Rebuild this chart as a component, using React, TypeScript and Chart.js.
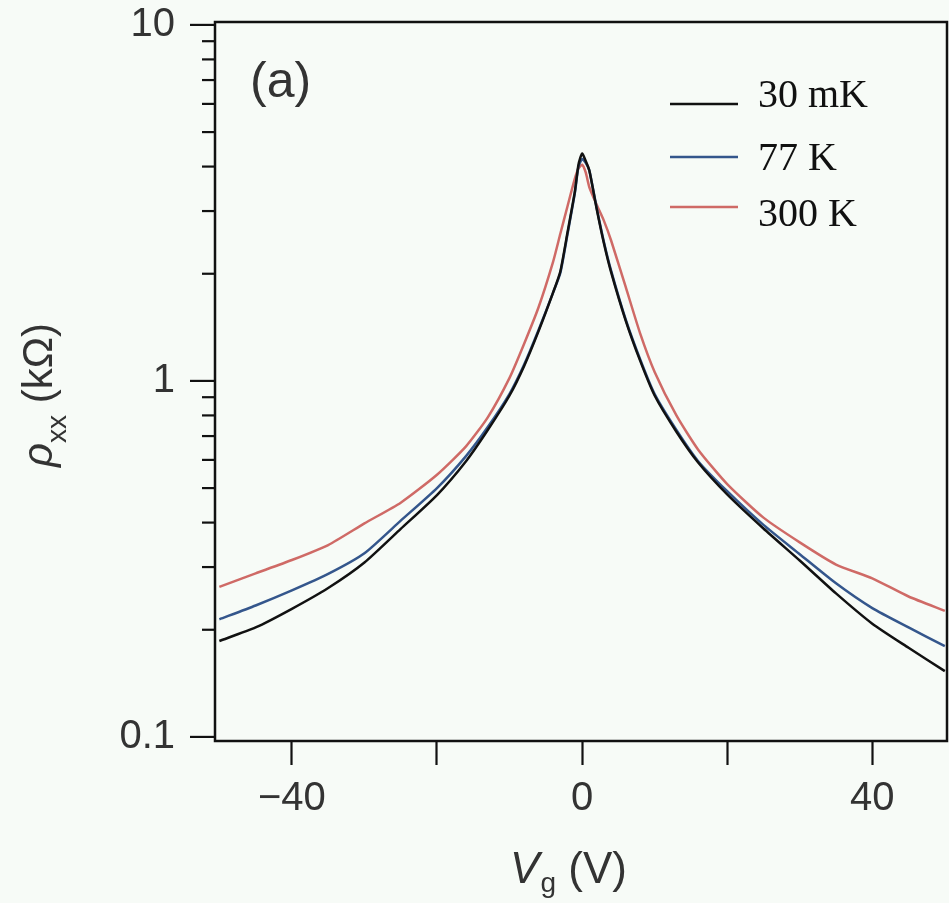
import React, { useEffect, useRef } from 'react';
import { Chart, registerables } from 'chart.js';

Chart.register(...registerables);

// Gate voltage grid (V)
const vg = [-50, -45, -40, -35, -30, -25, -20, -16, -13, -10, -8, -6, -4, -3, -2, -1, -0.5, 0, 0.5, 1, 2, 3, 4, 6, 8, 10, 13, 16, 20, 25, 30, 35, 40, 45, 50];

// rho_xx (kOhm) per temperature
const rho30mK = [0.186, 0.203, 0.229, 0.262, 0.309, 0.384, 0.478, 0.595, 0.728, 0.91, 1.10, 1.38, 1.77, 2.03, 2.62, 3.4, 4.05, 4.35, 4.15, 3.9, 3.05, 2.44, 2.02, 1.48, 1.14, 0.91, 0.72, 0.59, 0.48, 0.385, 0.313, 0.253, 0.208, 0.178, 0.153];
const rho77K = [0.214, 0.234, 0.258, 0.287, 0.328, 0.405, 0.50, 0.615, 0.742, 0.92, 1.11, 1.39, 1.77, 2.01, 2.59, 3.37, 4.0, 4.2, 4.1, 3.9, 3.07, 2.46, 2.04, 1.49, 1.15, 0.918, 0.728, 0.595, 0.490, 0.394, 0.326, 0.270, 0.230, 0.203, 0.180];
const rho300K = [0.264, 0.288, 0.314, 0.346, 0.398, 0.455, 0.545, 0.655, 0.79, 1.02, 1.27, 1.61, 2.16, 2.59, 3.10, 3.70, 3.95, 4.05, 3.85, 3.5, 3.13, 2.82, 2.48, 1.84, 1.36, 1.06, 0.80, 0.641, 0.513, 0.413, 0.352, 0.305, 0.279, 0.248, 0.226];

const seriesLabels = ['30 mK', '77 K', '300 K'];
const seriesColors = ['#111111', '#34568c', '#cf6a66'];

const xTickValues = [-40, -20, 0, 20, 40];
const xTickLabels = ['\u221240', '', '0', '', '40'];
const yMajorTicks = [0.1, 1, 10];
const yMajorLabels = ['0.1', '1', '10'];
const yMinorTicks = [0.2, 0.3, 0.4, 0.5, 0.6, 0.7, 0.8, 0.9, 2, 3, 4, 5, 6, 7, 8, 9];

const panelLabel = '(a)';

const SANS = '"Liberation Sans", Arial, sans-serif';
const SERIF = '"Liberation Serif", "Times New Roman", serif';

const decorPlugin = {
  id: 'decor',
  afterDraw(chart: any) {
    const ctx = chart.ctx as CanvasRenderingContext2D;
    const area = chart.chartArea;
    const ys = chart.scales.y;
    ctx.save();
    // frame
    ctx.strokeStyle = '#111';
    ctx.lineWidth = 2.5;
    ctx.strokeRect(area.left, area.top, area.right - area.left, area.bottom - area.top);
    // y ticks
    ctx.lineWidth = 2.2;
    yMajorTicks.forEach((v) => {
      const y = ys.getPixelForValue(v);
      ctx.beginPath();
      ctx.moveTo(area.left - 25, y);
      ctx.lineTo(area.left, y);
      ctx.stroke();
    });
    yMinorTicks.forEach((v) => {
      const y = ys.getPixelForValue(v);
      ctx.beginPath();
      ctx.moveTo(area.left - 13, y);
      ctx.lineTo(area.left, y);
      ctx.stroke();
    });

    // panel label
    ctx.fillStyle = '#333';
    ctx.font = `50px ${SANS}`;
    ctx.textAlign = 'left';
    ctx.textBaseline = 'alphabetic';
    ctx.fillText(panelLabel, 250, 97);

    // legend
    const legendY = [104, 157, 207];
    const legendTextY = [107, 170, 226];
    seriesLabels.forEach((lab, i) => {
      ctx.strokeStyle = seriesColors[i];
      ctx.lineWidth = 2.5;
      ctx.beginPath();
      ctx.moveTo(670, legendY[i]);
      ctx.lineTo(738, legendY[i]);
      ctx.stroke();
      ctx.fillStyle = '#111';
      ctx.font = `40px ${SERIF}`;
      ctx.fillText(lab, 758, legendTextY[i]);
    });

    // y title: rho_xx (kOhm)
    ctx.save();
    ctx.translate(52, 395);
    ctx.rotate(-Math.PI / 2);
    ctx.fillStyle = '#333';
    const p1 = '\u03C1';
    const p2 = 'xx';
    const p3 = ' (k\u03A9)';
    ctx.font = `italic 42px ${SANS}`;
    const w1 = ctx.measureText(p1).width;
    ctx.font = `28px ${SANS}`;
    const w2 = ctx.measureText(p2).width;
    ctx.font = `42px ${SANS}`;
    const w3 = ctx.measureText(p3).width;
    let x0 = -(w1 + w2 + w3) / 2;
    ctx.font = `italic 42px ${SANS}`;
    ctx.fillText(p1, x0, 0);
    x0 += w1;
    ctx.font = `28px ${SANS}`;
    ctx.fillText(p2, x0, 14);
    x0 += w2;
    ctx.font = `42px ${SANS}`;
    ctx.fillText(p3, x0, 0);
    ctx.restore();

    // x title: V_g (V)
    const q1 = 'V';
    const q2 = 'g';
    const q3 = ' (V)';
    ctx.font = `italic 44px ${SANS}`;
    const v1 = ctx.measureText(q1).width;
    ctx.font = `28px ${SANS}`;
    const v2 = ctx.measureText(q2).width;
    ctx.font = `44px ${SANS}`;
    const v3 = ctx.measureText(q3).width;
    let xs = 568 - (v1 + v2 + v3) / 2;
    ctx.fillStyle = '#333';
    ctx.font = `italic 44px ${SANS}`;
    ctx.fillText(q1, xs, 883);
    xs += v1 + 1;
    ctx.font = `28px ${SANS}`;
    ctx.fillText(q2, xs, 892);
    xs += v2;
    ctx.font = `44px ${SANS}`;
    ctx.fillText(q3, xs, 883);
    ctx.restore();
  },
};

export default function App() {
  const ref = useRef<HTMLCanvasElement | null>(null);

  useEffect(() => {
    document.body.style.margin = '0';
    document.body.style.background = '#f7fbf7';
    const canvas = ref.current;
    if (!canvas) return;
    const mk = (arr: number[]) => vg.map((x, i) => ({ x, y: arr[i] }));
    const chart = new Chart(canvas, {
      type: 'line',
      data: {
        datasets: [
          { label: seriesLabels[0], data: mk(rho30mK), borderColor: seriesColors[0], borderWidth: 2.5, pointRadius: 0, tension: 0.2, fill: false },
          { label: seriesLabels[1], data: mk(rho77K), borderColor: seriesColors[1], borderWidth: 2.5, pointRadius: 0, tension: 0.2, fill: false },
          { label: seriesLabels[2], data: mk(rho300K), borderColor: seriesColors[2], borderWidth: 2.5, pointRadius: 0, tension: 0.2, fill: false },
        ],
      },
      options: {
        responsive: false,
        animation: false,
        devicePixelRatio: 1,
        layout: { padding: { top: 22, right: 2, left: 0, bottom: 0 } },
        plugins: { legend: { display: false }, tooltip: { enabled: false } },
        scales: {
          x: {
            type: 'linear',
            min: -50.6,
            max: 50.3,
            border: { display: false },
            grid: { display: true, drawOnChartArea: false, drawTicks: true, tickLength: 24, tickWidth: 2.2, tickColor: '#111' },
            afterBuildTicks: (scale: any) => {
              scale.ticks = xTickValues.map((v) => ({ value: v }));
            },
            afterFit: (scale: any) => {
              scale.height = 162;
              scale.paddingLeft = 0;
              scale.paddingRight = 0;
            },
            ticks: {
              autoSkip: false,
              maxRotation: 0,
              padding: 10,
              color: '#333',
              font: { family: SANS, size: 40 },
              callback: (_v: any, i: number) => xTickLabels[i],
            },
          },
          y: {
            type: 'logarithmic',
            min: 0.0974,
            max: 10.19,
            border: { display: false },
            grid: { display: false, drawTicks: false },
            afterBuildTicks: (scale: any) => {
              scale.ticks = yMajorTicks.map((v) => ({ value: v }));
            },
            afterFit: (scale: any) => {
              scale.width = 215;
              scale.paddingTop = 0;
              scale.paddingBottom = 0;
            },
            ticks: {
              autoSkip: false,
              padding: 40,
              color: '#333',
              font: { family: SANS, size: 40 },
              callback: (_v: any, i: number) => yMajorLabels[i],
            },
          },
        },
      },
      plugins: [decorPlugin],
    } as any);
    return () => chart.destroy();
  }, []);

  return (
    <div style={{ position: 'absolute', left: 0, top: 0, width: 949, height: 903, background: '#f7fbf7' }}>
      <canvas ref={ref} width={949} height={903} style={{ display: 'block' }} />
    </div>
  );
}
